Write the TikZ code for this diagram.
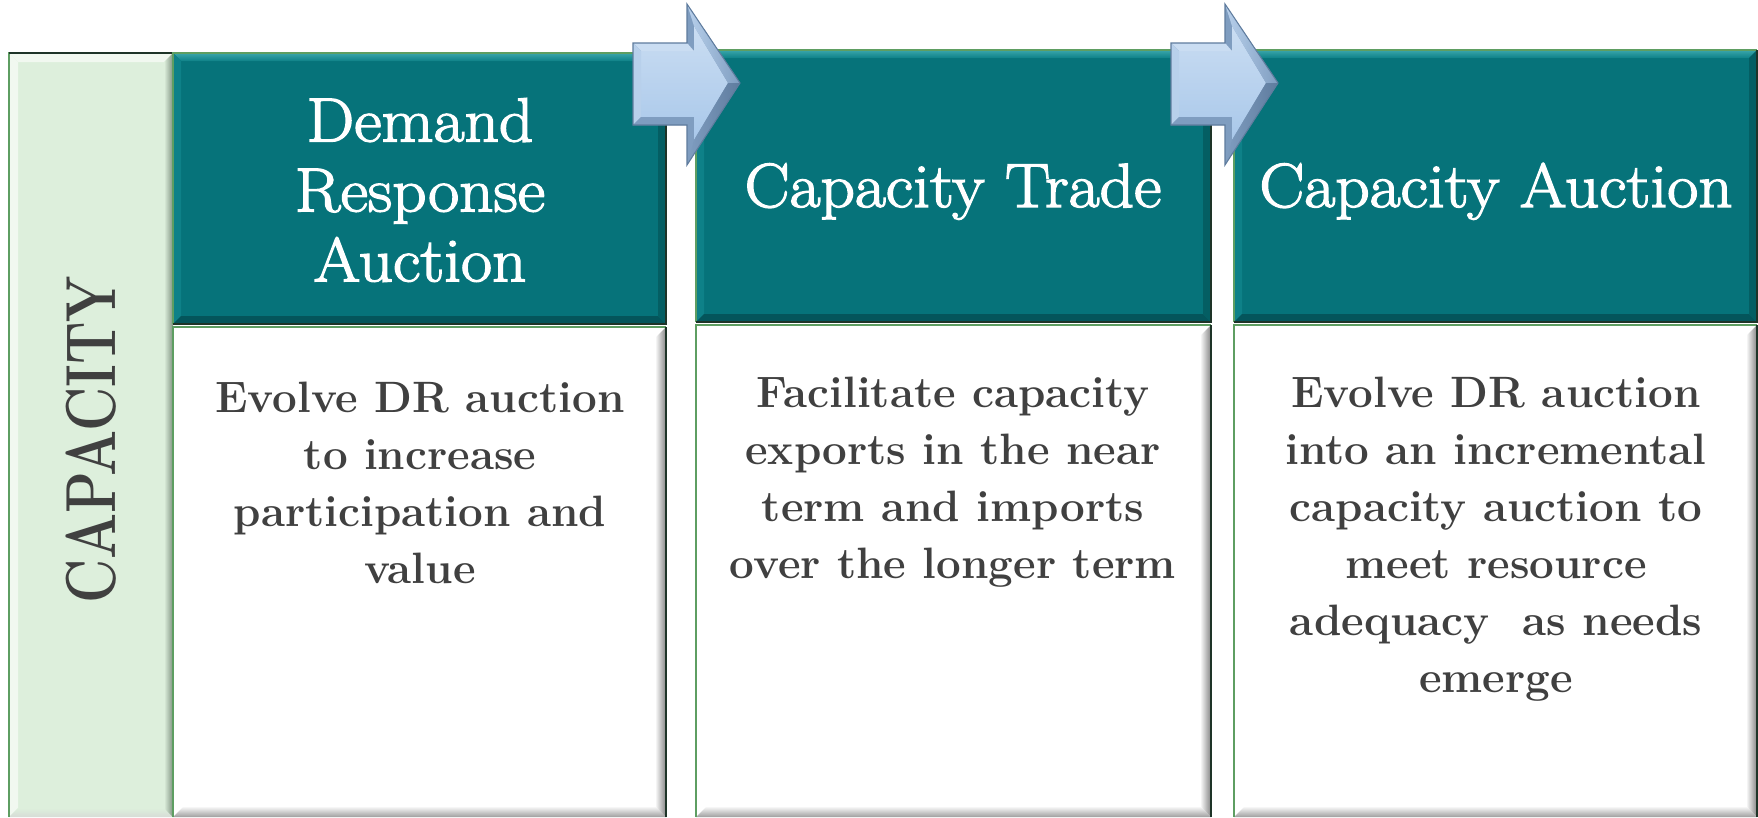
\documentclass[tikz,border=0pt]{standalone}
\usepackage{fontspec}
\usetikzlibrary{calc}
\definecolor{teal0}{HTML}{06737A}
\definecolor{tealL}{HTML}{3AA6AB}
\definecolor{tealM}{HTML}{0E8188}
\definecolor{tealD}{HTML}{04555B}
\definecolor{tealR}{HTML}{045E63}
\definecolor{mint}{HTML}{DDEFDC}
\definecolor{mintL}{HTML}{F1F8F0}
\definecolor{mintD}{HTML}{7F9281}
\definecolor{edgeG}{HTML}{5E9E62}
\definecolor{edgeK}{HTML}{1E3428}
\definecolor{txtgray}{HTML}{404040}
\definecolor{bluA}{HTML}{A9C8EA}
\definecolor{bluL}{HTML}{CADDF2}
\definecolor{bluM}{HTML}{B8D0EB}
\definecolor{bluD}{HTML}{7F9DC0}
\definecolor{bluK}{HTML}{5F7C9E}
\newfontfamily\hdrfont[FakeBold=2.2,FakeStretch=1.08]{Latin Modern Roman}
\newcommand\bevelbox[9]{%
  \path[#6] (#1,#2) -- (#3,#2) -- ({#3-#5},{#2+#5}) -- ({#1+#5},{#2+#5}) -- cycle;
  \path[#7] (#1,#2) -- ({#1+#5},{#2+#5}) -- ({#1+#5},{#4-#5}) -- (#1,#4) -- cycle;
  \path[#8] (#1,#4) -- ({#1+#5},{#4-#5}) -- ({#3-#5},{#4-#5}) -- (#3,#4) -- cycle;
  \path[#9] (#3,#2) -- (#3,#4) -- ({#3-#5},{#4-#5}) -- ({#3-#5},{#2+#5}) -- cycle;
}
\newcommand\headerbox[4]{%
  \fill[teal0] (#1,#2) rectangle (#3,#4);
  \bevelbox{#1}{#2}{#3}{#4}{8}{top color=tealL,bottom color=tealM}{fill=tealM}{fill=tealD}{fill=tealR}
  \draw[edgeG,line width=0.8pt] (#1,#4) -- (#1,#2) -- (#3,#2);
  \draw[edgeK,line width=1.6pt] (#3,#2) -- (#3,#4) -- (#1,#4);
}
\newcommand\bodybox[4]{%
  \fill[white] (#1,#2) rectangle (#3,#4);
  \bevelbox{#1}{#2}{#3}{#4}{11}{fill=white}{fill=white}{top color=white,bottom color=black!38}{left color=white,right color=black!48}
  \draw[edgeG,line width=0.8pt] (#1,#4) -- (#1,#2) -- (#3,#2);
  \draw[edgeK,line width=1.6pt] (#3,#2) -- (#3,#4);
}
\newcommand\bluearrow{%
  \fill[bluD] (633,43) -- (687,43) -- (687,4) -- (740,83) -- (687,165) -- (687,125) -- (633,125) -- cycle;
  \shade[top color=bluL,bottom color=bluA] (641,51) -- (694,51) -- (694,26) -- (728,83) -- (694,140) -- (694,117) -- (641,117) -- cycle;
  \fill[bluL] (633,43) -- (687,43) -- (694,51) -- (641,51) -- cycle;
  \fill[bluM] (633,43) -- (641,51) -- (641,117) -- (633,125) -- cycle;
  \fill[bluD] (633,125) -- (641,117) -- (694,117) -- (687,125) -- cycle;
  \shade[left color=bluM,right color=bluD] (687,4) -- (740,83) -- (728,83) -- (694,26) -- cycle;
  \shade[left color=bluD,right color=bluK] (740,83) -- (687,165) -- (694,140) -- (728,83) -- cycle;
  \draw[bluK,line width=0.6pt] (633,43) -- (687,43) -- (687,4) -- (740,83) -- (687,165) -- (687,125) -- (633,125) -- cycle;
}
\tikzset{
  hdrtxt/.style={text=white,align=center,inner sep=0pt,font=\hdrfont\fontsize{35.5}{39.8}\selectfont},
  bodytxt/.style={text=txtgray,align=center,inner sep=0pt,font=\fontsize{25}{32.4}\selectfont\bfseries},
  captxt/.style={text=txtgray,inner sep=0pt,font=\fontsize{31}{36}\selectfont\bfseries}
}
\begin{document}
\begin{tikzpicture}[x=0.02cm,y=-0.02cm]
\useasboundingbox (0,0) rectangle (1758,818);
\fill[white] (0,0) rectangle (1758,818);
% left bar
\fill[mint] (9,53) rectangle (173,817);
\bevelbox{9}{53}{173}{817}{9}{fill=mintL}{fill=mintL}{top color=mint,bottom color=mint!70!black!40}{left color=mint,right color=mintD}
\draw[edgeG,line width=0.8pt] (9,817) -- (9,53) -- (173,53);
\draw[edgeK,line width=1.2pt] (9,53) -- (173,53);
% columns
\headerbox{173}{53}{666}{324}
\bodybox{173}{327}{666}{817}
\headerbox{696}{50}{1211}{322}
\bodybox{696}{325}{1211}{817}
\headerbox{1234}{50}{1757}{322}
\bodybox{1234}{325}{1757}{817}
% arrows
\bluearrow
\begin{scope}[shift={(538,0)}]
\bluearrow
\end{scope}
% texts
\node[captxt,rotate=90] (cap) at (91,440) {\scalebox{1}[1.3]{CAPACITY}};
\node[hdrtxt] (h1) at (420,190) {Demand\\Response\\Auction};
\node[hdrtxt,anchor=base] (h2) at (953,207) {Capacity Trade};
\node[hdrtxt,anchor=base] (h3) at (1496,207) {Capacity Auction};
\node[bodytxt] (b1) at (420,483) {Evolve DR auction\\to increase\\participation and\\value};
\node[bodytxt] (b2) at (953,482) {Facilitate capacity\\exports in the near\\term and imports\\over the longer term};
\node[bodytxt] (b3) at (1496,539) {Evolve DR auction\\into an incremental\\capacity auction to\\meet resource\\adequacy\ \ as needs\\emerge};
\end{tikzpicture}
\end{document}
